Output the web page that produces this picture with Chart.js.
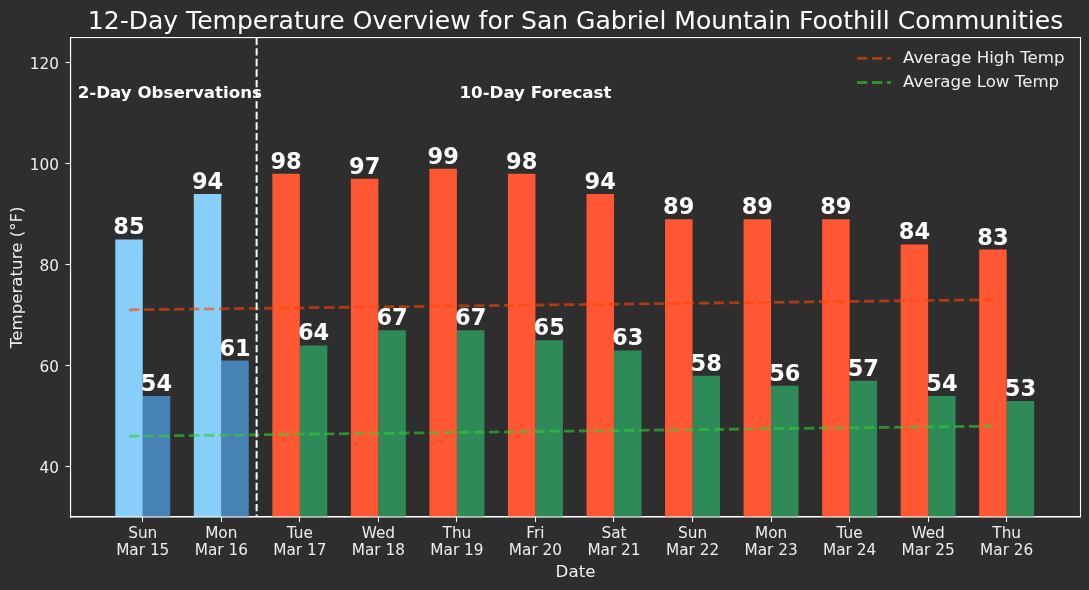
<!DOCTYPE html>
<html>
<head>
<meta charset="utf-8">
<style>
  html, body { margin: 0; padding: 0; background: #2e2e2e; }
  canvas { display: block; }
</style>
<script src="https://cdn.jsdelivr.net/npm/chart.js@4"></script>
</head>
<body>
<canvas id="chart" width="1089" height="590"></canvas>
<script>
const days = ['Sun', 'Mon', 'Tue', 'Wed', 'Thu', 'Fri', 'Sat', 'Sun', 'Mon', 'Tue', 'Wed', 'Thu'];
const dates = ['Mar 15', 'Mar 16', 'Mar 17', 'Mar 18', 'Mar 19', 'Mar 20', 'Mar 21', 'Mar 22', 'Mar 23', 'Mar 24', 'Mar 25', 'Mar 26'];
const highs = [85, 94, 98, 97, 99, 98, 94, 89, 89, 89, 84, 83];
const lows = [54, 61, 64, 67, 67, 65, 63, 58, 56, 57, 54, 53];
const trendEnds = [-0.175, 10.825];
const highTrend = [71.05, 73.05];
const lowTrend = [46.0, 48.0];
const yTicks = [40, 60, 80, 100, 120];

const FONT = '"DejaVu Sans"';
const WHITE = '#ffffff';
const SOFT_WHITE = '#eeeeee';
const HIGH_LINE = 'rgba(255, 69, 0, 0.6)';
const LOW_LINE = 'rgba(50, 205, 50, 0.6)';
const OBSERVED_DAYS = 2;

// ── Text, spines, divider and legend that Chart.js can't place by itself ──
const overlay = {
    id: 'overlay',
    afterDatasetsDraw(chart) {
        const { ctx, chartArea: a, scales: { x, y } } = chart;
        ctx.save();

        // value labels above the bars
        ctx.fillStyle = WHITE;
        ctx.font = `bold 22.5px ${FONT}`;
        ctx.textAlign = 'center';
        ctx.textBaseline = 'alphabetic';
        [0, 1].forEach(ds => {
            chart.getDatasetMeta(ds).data.forEach((bar, i) => {
                ctx.fillText(chart.data.datasets[ds].data[i].y, bar.x, bar.y - 5);
            });
        });

        // observations / forecast divider
        const divX = x.getPixelForValue(1.45);
        ctx.strokeStyle = WHITE;
        ctx.lineWidth = 2;
        ctx.setLineDash([7.4, 3.2]);
        ctx.beginPath();
        ctx.moveTo(divX, a.top);
        ctx.lineTo(divX, a.bottom);
        ctx.stroke();
        ctx.setLineDash([]);

        ctx.font = `bold 16.67px ${FONT}`;
        ctx.textBaseline = 'middle';
        ctx.fillText('2-Day Observations', x.getPixelForValue(0.345), y.getPixelForValue(113.8));
        ctx.fillText('10-Day Forecast', x.getPixelForValue(5), y.getPixelForValue(113.8));

        // spines
        ctx.lineWidth = 1.1;
        ctx.strokeRect(a.left, a.top, a.right - a.left, a.bottom - a.top);

        // y tick labels, baseline-placed so the digits centre on their ticks
        ctx.fillStyle = SOFT_WHITE;
        ctx.font = `15.3px ${FONT}`;
        ctx.textAlign = 'right';
        ctx.textBaseline = 'alphabetic';
        yTicks.forEach(t => ctx.fillText(t, 59, y.getPixelForValue(t) + 6));

        // legend
        const rows = [
            ['Average High Temp', HIGH_LINE, 58.3],
            ['Average Low Temp', LOW_LINE, 82.5],
        ];
        ctx.font = `16.67px ${FONT}`;
        ctx.textAlign = 'left';
        ctx.textBaseline = 'middle';
        rows.forEach(([label, color, rowY]) => {
            ctx.strokeStyle = color;
            ctx.lineWidth = 2.8;
            ctx.setLineDash([10.3, 4.7]);
            ctx.beginPath();
            ctx.moveTo(857, rowY);
            ctx.lineTo(891, rowY);
            ctx.stroke();
            ctx.setLineDash([]);
            ctx.fillStyle = SOFT_WHITE;
            ctx.fillText(label, 903, rowY + 0.5);
        });
        ctx.restore();
    },
};

const toPoints = (xs, ys) => ys.map((v, i) => ({ x: xs[i], y: v }));
const dayIndex = highs.map((_, i) => i);

new Chart(document.getElementById('chart'), {
    data: {
        datasets: [
            {
                type: 'bar',
                label: 'High',
                data: toPoints(dayIndex, highs),
                backgroundColor: highs.map((_, i) => (i < OBSERVED_DAYS ? '#87cefa' : '#ff5733')),
                categoryPercentage: 0.7,
                barPercentage: 1,
                order: 2,
            },
            {
                type: 'bar',
                label: 'Low',
                data: toPoints(dayIndex, lows),
                backgroundColor: lows.map((_, i) => (i < OBSERVED_DAYS ? '#4682b4' : '#2e8b57')),
                categoryPercentage: 0.7,
                barPercentage: 1,
                order: 2,
            },
            {
                type: 'line',
                label: 'Average High Temp',
                data: toPoints(trendEnds, highTrend),
                borderColor: HIGH_LINE,
                borderWidth: 2.8,
                borderDash: [10.3, 4.7],
                pointRadius: 0,
                order: 1,
            },
            {
                type: 'line',
                label: 'Average Low Temp',
                data: toPoints(trendEnds, lowTrend),
                borderColor: LOW_LINE,
                borderWidth: 2.8,
                borderDash: [10.3, 4.7],
                pointRadius: 0,
                order: 1,
            },
        ],
    },
    options: {
        responsive: false,
        animation: false,
        devicePixelRatio: 1,
        layout: { padding: { right: 8.5 } },
        plugins: {
            legend: { display: false },
            tooltip: { enabled: false },
            title: {
                display: true,
                fullSize: false,
                text: '12-Day Temperature Overview for San Gabriel Mountain Foothill Communities',
                color: WHITE,
                font: { family: FONT, size: 25.05, weight: 'normal', lineHeight: 1 },
                padding: { top: 9.5, bottom: 3 },
            },
        },
        scales: {
            x: {
                type: 'linear',
                offset: false,
                min: -0.92,
                max: 11.94,
                grid: { offset: false, drawOnChartArea: false, tickLength: 5, tickColor: WHITE, tickWidth: 1.1 },
                border: { color: WHITE, width: 1.1 },
                afterBuildTicks: scale => { scale.ticks = dayIndex.map(value => ({ value })); },
                afterFit: scale => { scale.height = 73; },
                ticks: {
                    color: SOFT_WHITE,
                    font: { family: FONT, size: 15.3, lineHeight: 1.11 },
                    padding: 4,
                    maxRotation: 0,
                    autoSkip: false,
                    callback: value => [days[value], dates[value]],
                },
                title: {
                    display: true,
                    text: 'Date',
                    color: SOFT_WHITE,
                    font: { family: FONT, size: 16.67, lineHeight: 1 },
                    padding: { top: 6, bottom: 9.5 },
                },
            },
            y: {
                min: 30,
                max: 125,
                grid: { drawOnChartArea: false, tickLength: 5, tickColor: WHITE, tickWidth: 1.1 },
                border: { color: WHITE, width: 1.1 },
                afterBuildTicks: scale => { scale.ticks = yTicks.map(value => ({ value })); },
                afterFit: scale => { scale.width = 70.5; },
                ticks: { display: false },
                title: {
                    display: true,
                    text: 'Temperature (°F)',
                    color: SOFT_WHITE,
                    font: { family: FONT, size: 16.67, lineHeight: 1 },
                    padding: { top: 9, bottom: 0 },
                },
            },
        },
    },
    plugins: [overlay],
});
</script>
</body>
</html>
